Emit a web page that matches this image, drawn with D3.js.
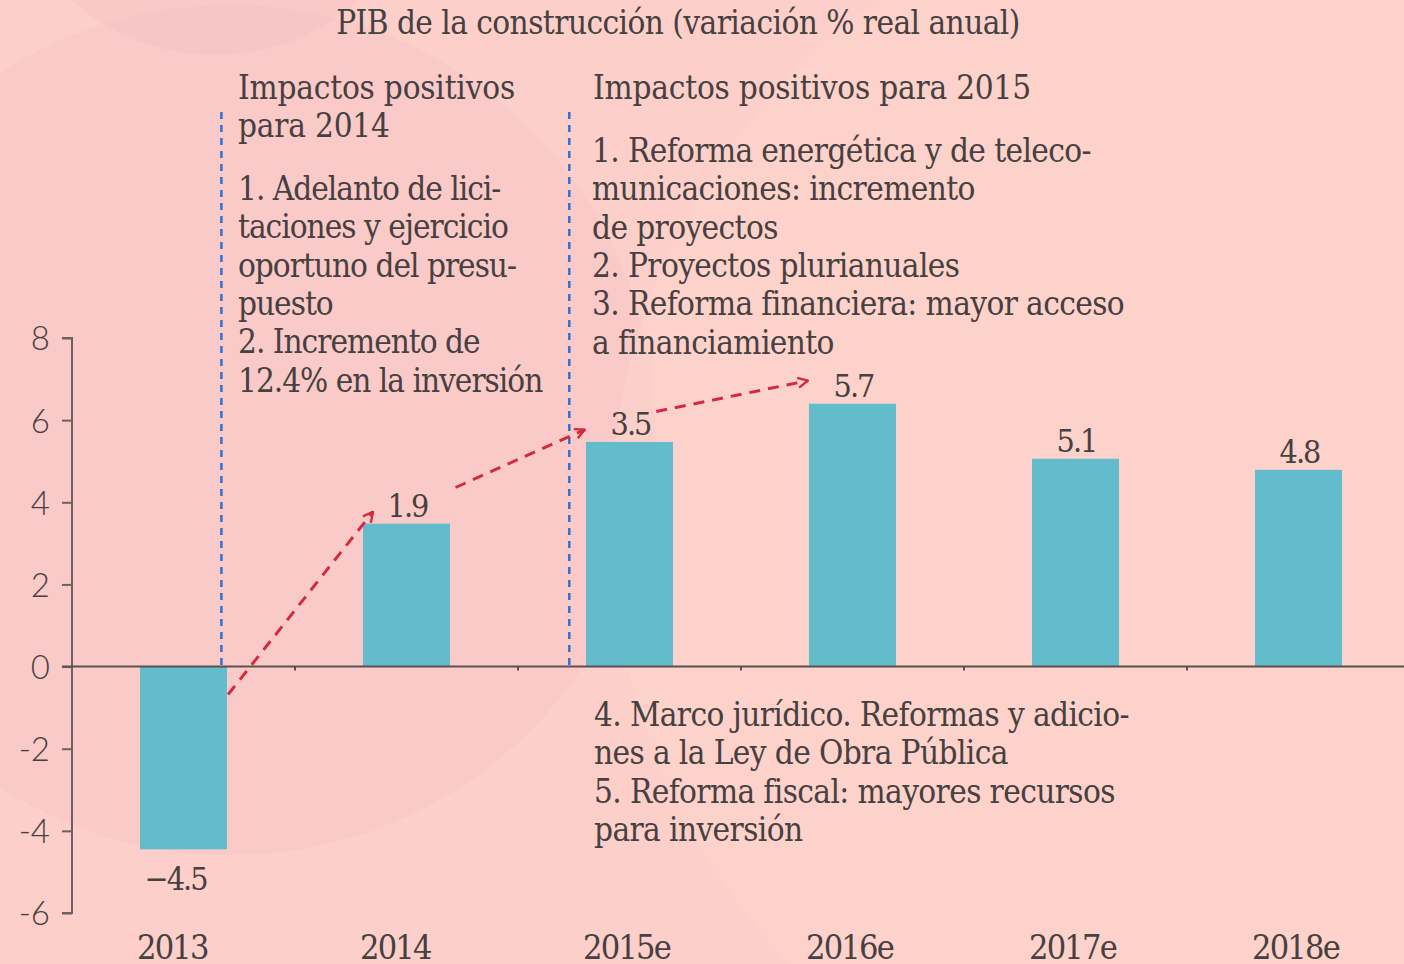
<!DOCTYPE html>
<html>
<head>
<meta charset="utf-8">
<title>PIB de la construcción</title>
<script src="https://d3js.org/d3.v7.min.js"></script>
<style>
  body { margin: 0; background: #fccfca; }
  svg text { font-family: "DejaVu Serif Condensed", "DejaVu Serif", serif; font-stretch: condensed; fill: #474040; }
</style>
</head>
<body>
<div id="mychart"></div>
<script>
// data
var years = ["2013", "2014", "2015e", "2016e", "2017e", "2018e"];
var barValues = [-4.45, 3.48, 5.47, 6.4, 5.06, 4.79];   // heights as drawn
var barLabels = ["−4.5", "1.9", "3.5", "5.7", "5.1", "4.8"];  // printed figures
var yTicks = [-6, -4, -2, 0, 2, 4, 6, 8];

var title = "PIB de la construcción (variación % real anual)";
var notes2014 = ["Impactos positivos", "para 2014"];
var items2014 = ["1. Adelanto de lici-", "taciones y ejercicio", "oportuno del presu-", "puesto",
                 "2. Incremento de", "12.4% en la inversión"];
var notes2015 = ["Impactos positivos para 2015"];
var items2015 = ["1. Reforma energética y de teleco-", "municaciones: incremento", "de proyectos",
                 "2. Proyectos plurianuales", "3. Reforma financiera: mayor acceso", "a financiamiento"];
var itemsBelow = ["4. Marco jurídico. Reformas y adicio-", "nes a la Ley de Obra Pública",
                  "5. Reforma fiscal: mayores recursos", "para inversión"];

// dividers and arrows, in (category index, value) units
var dividers = [0.17, 1.73];
var arrows = [
  { x0: 0.20, v0: -0.68, x1: 0.85, v1: 3.77 },
  { x0: 1.22, v0: 4.36,  x1: 1.80, v1: 5.77 },
  { x0: 2.12, v0: 6.21,  x1: 2.80, v1: 6.96 }
];

var width = 1404, height = 964;

var svg = d3.select("#mychart").append("svg")
    .attr("width", width).attr("height", height);

// background blobs
svg.append("rect").attr("width", width).attr("height", height).attr("fill", "#fccfca");
svg.append("circle").attr("cx", 230).attr("cy", 430).attr("r", 425).attr("fill", "#f8c6c8").attr("opacity", 0.5);
svg.append("circle").attr("cx", 215).attr("cy", -160).attr("r", 215).attr("fill", "#f4bfc3").attr("opacity", 0.4);
svg.append("circle").attr("cx", 1250).attr("cy", 520).attr("r", 640).attr("fill", "#fed3cc").attr("opacity", 0.6);

var x = d3.scaleBand().domain(years).range([72, 1410]).paddingInner(0.61).paddingOuter(0.305);
var y = d3.scaleLinear().domain([-6, 8]).range([913, 338]);
var xi = d3.scaleLinear().domain([0, years.length - 1])
    .range([x(years[0]) + x.bandwidth() / 2, x(years[years.length - 1]) + x.bandwidth() / 2]);

// title
svg.append("text").attr("x", 678).attr("y", 34).attr("text-anchor", "middle")
    .style("font-size", "33px").style("letter-spacing", "-0.55px").text(title);

// bars
svg.selectAll(".bar").data(barValues).enter().append("rect")
    .attr("class", "bar")
    .attr("x", function(d, i) { return x(years[i]); })
    .attr("y", function(d) { return y(Math.max(0, d)); })
    .attr("width", x.bandwidth())
    .attr("height", function(d) { return Math.abs(y(d) - y(0)); })
    .attr("fill", "#62bccb");

// bar labels
svg.selectAll(".lab").data(barValues).enter().append("text")
    .attr("class", "lab")
    .attr("x", function(d, i) { return x(years[i]) + x.bandwidth() / 2 + (d < 0 ? -8 : 1); })
    .attr("y", function(d) { return d < 0 ? y(d) + 41 : y(d) - 7; })
    .attr("text-anchor", "middle")
    .style("font-size", "32px").style("letter-spacing", "-2px")
    .text(function(d, i) { return barLabels[i]; });

// y axis
var yAxis = svg.append("g").attr("transform", "translate(72,0)")
    .call(d3.axisLeft(y).tickValues(yTicks).tickSize(10).tickPadding(12)
      .tickFormat(function(d) { return d < 0 ? "-" + Math.abs(d) : d; }));
yAxis.select(".domain").attr("stroke", "#6e6060").attr("stroke-width", 2).attr("d", "M-10," + y(8) + "H0V" + y(-6) + "H-10");
yAxis.selectAll(".tick line").attr("stroke", "#6e6060").attr("stroke-width", 2);
yAxis.selectAll(".tick text").style("font-family", "Lato, sans-serif").style("font-weight", 300)
    .style("font-size", "33px").attr("fill", "#3f3838").attr("dy", "0.36em");

// zero line with boundary ticks
svg.append("line").attr("x1", 62).attr("x2", width).attr("y1", y(0)).attr("y2", y(0))
    .attr("stroke", "#5a5050").attr("stroke-width", 2);
svg.selectAll(".xtick").data(years.slice(1)).enter().append("line")
    .attr("x1", function(d) { return x(d) - x.step() * x.paddingInner() / 2 - x.bandwidth() * 0; })
    .attr("x1", function(d, i) { return 72 + (i + 1) * x.step(); })
    .attr("x2", function(d, i) { return 72 + (i + 1) * x.step(); })
    .attr("y1", y(0)).attr("y2", y(0) + 4)
    .attr("stroke", "#5a5050").attr("stroke-width", 2);

// category labels
svg.selectAll(".cat").data(years).enter().append("text")
    .attr("x", function(d) { return x(d) - 3; })
    .attr("y", 959)
    .style("font-size", "34px").style("letter-spacing", "-1.8px")
    .text(function(d) { return d; });

// dividers
svg.selectAll(".div").data(dividers).enter().append("line")
    .attr("x1", function(d) { return xi(d); }).attr("x2", function(d) { return xi(d); })
    .attr("y1", y(13.5)).attr("y2", y(0))
    .attr("stroke", "#2f72d4").attr("stroke-width", 2.5).attr("stroke-dasharray", "7,6");

// arrows
svg.append("defs").append("marker").attr("id", "head")
    .attr("viewBox", "0 0 12 12").attr("refX", 11).attr("refY", 6)
    .attr("markerWidth", 12).attr("markerHeight", 12).attr("markerUnits", "userSpaceOnUse")
    .attr("orient", "auto")
  .append("path").attr("d", "M1,1 L11,6 L1,11").attr("fill", "none")
    .attr("stroke", "#d42a3e").attr("stroke-width", 2.4);

svg.selectAll(".arrow").data(arrows).enter().append("line")
    .attr("x1", function(d) { return xi(d.x0); }).attr("y1", function(d) { return y(d.v0); })
    .attr("x2", function(d) { return xi(d.x1); }).attr("y2", function(d) { return y(d.v1); })
    .attr("stroke", "#d42a3e").attr("stroke-width", 3).attr("stroke-dasharray", "11,8")
    .attr("marker-end", "url(#head)");

// annotation blocks
function block(lines, x0, y0, size, ls) {
  svg.append("g").selectAll("text").data(lines).enter().append("text")
    .attr("x", x0).attr("y", function(d, i) { return y0 + i * 38.3; })
    .style("font-size", size + "px").style("letter-spacing", ls + "px")
    .text(function(d) { return d; });
}
block(notes2014, 238, 99, 33, -0.2);
block(items2014, 238, 200, 33, -1.0);
block(notes2015, 593, 99, 33, -0.2);
block(items2015, 592, 162, 33, -0.6);
block(itemsBelow, 594, 726, 33, -0.6);
</script>
</body>
</html>
